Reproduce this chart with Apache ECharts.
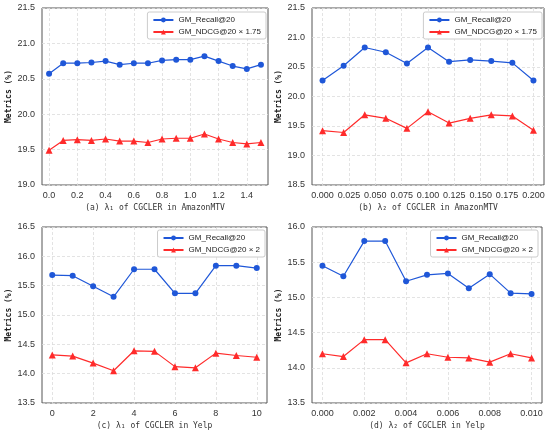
<!DOCTYPE html>
<html><head><meta charset="utf-8">
<script src="https://cdn.jsdelivr.net/npm/echarts@6/dist/echarts.min.js"></script>
<style>html,body{margin:0;padding:0;background:#fff}#c{width:550px;height:436px}</style>
</head><body><div id="c"></div>
<script>
// ---- data ----
const xA = [0.0,0.1,0.2,0.3,0.4,0.5,0.6,0.7,0.8,0.9,1.0,1.1,1.2,1.3,1.4,1.5];
const recallA = [20.57,20.72,20.72,20.73,20.75,20.70,20.72,20.72,20.76,20.77,20.77,20.82,20.75,20.68,20.64,20.70];
const ndcgA = [19.49,19.63,19.64,19.63,19.65,19.62,19.62,19.60,19.65,19.66,19.66,19.72,19.65,19.60,19.58,19.60];
const ticksA = [0.0,0.2,0.4,0.6,0.8,1.0,1.2,1.4];

const xB = [0.00,0.02,0.04,0.06,0.08,0.10,0.12,0.14,0.16,0.18,0.20];
const recallB = [20.27,20.52,20.83,20.75,20.56,20.83,20.59,20.62,20.60,20.57,20.27];
const ndcgB = [19.42,19.39,19.69,19.63,19.46,19.74,19.55,19.63,19.69,19.67,19.43];
const ticksB = [0.000,0.025,0.050,0.075,0.100,0.125,0.150,0.175,0.200];

const xC = [0,1,2,3,4,5,6,7,8,9,10];
const recallC = [15.68,15.67,15.49,15.31,15.78,15.78,15.37,15.37,15.84,15.84,15.80];
const ndcgC = [14.32,14.30,14.18,14.05,14.39,14.38,14.12,14.10,14.35,14.31,14.28];
const ticksC = [0,2,4,6,8,10];

const xD = [0.000,0.001,0.002,0.003,0.004,0.005,0.006,0.007,0.008,0.009,0.010];
const recallD = [15.45,15.30,15.80,15.80,15.23,15.32,15.34,15.13,15.33,15.06,15.05];
const ndcgD = [14.20,14.16,14.40,14.40,14.07,14.20,14.15,14.14,14.08,14.20,14.14];
const ticksD = [0.000,0.002,0.004,0.006,0.008,0.010];

const recallName = 'GM_Recall@20';
const ndcgNameAmazon = 'GM_NDCG@20 × 1.75';
const ndcgNameYelp = 'GM_NDCG@20 × 2';
const captions = ['(a) λ₁ of CGCLER in AmazonMTV','(b) λ₂ of CGCLER in AmazonMTV','(c) λ₁ of CGCLER in Yelp','(d) λ₂ of CGCLER in Yelp'];
const yLabel = 'Metrics (%)';

// ---- layout/style ----
const BLUE = '#1f57d8', RED = '#ff2b2b';
const panels = [
  {x:xA, r:recallA, n:ndcgA, ticks:ticksA, dec:1, xmin:-0.05, xmax:1.55, ymin:19.0, ymax:21.5, nName:ndcgNameAmazon,
   grid:{left:42, top:8, right:282, bottom:251}, legend:{right:284, top:12}},
  {x:xB, r:recallB, n:ndcgB, ticks:ticksB, dec:3, xmin:-0.01, xmax:0.21, ymin:18.5, ymax:21.5, nName:ndcgNameAmazon,
   grid:{left:312, top:8, right:6, bottom:251}, legend:{right:8, top:12}},
  {x:xC, r:recallC, n:ndcgC, ticks:ticksC, dec:0, xmin:-0.5, xmax:10.5, ymin:13.5, ymax:16.5, nName:ndcgNameYelp,
   grid:{left:42, top:227, right:283, bottom:33}, legend:{right:285, top:230}},
  {x:xD, r:recallD, n:ndcgD, ticks:ticksD, dec:3, xmin:-0.0005, xmax:0.0105, ymin:13.5, ymax:16.0, nName:ndcgNameYelp,
   grid:{left:312, top:227, right:8, bottom:33}, legend:{right:12, top:230}}
];

const grid=[], xAxis=[], yAxis=[], series=[], legend=[];
const tickFont = {fontFamily:'Liberation Sans', fontSize:9, color:'#333'};
panels.forEach((p,i)=>{
  grid.push(Object.assign({show:true, borderColor:'#555', borderWidth:1, backgroundColor:'#fff'}, p.grid));
  xAxis.push({type:'value', gridIndex:i, min:p.xmin, max:p.xmax,
    axisLine:{show:false}, axisTick:{show:false, customValues:p.ticks},
    axisLabel:Object.assign({customValues:p.ticks, margin:6, formatter:v=>Number(v).toFixed(p.dec)}, tickFont),
    splitLine:{show:true, lineStyle:{color:'#dcdcdc', type:[3,2], width:0.8}},
    name:captions[i], nameLocation:'middle', nameGap:19,
    nameTextStyle:{fontFamily:'DejaVu Sans Mono', fontSize:8, color:'#333'}});
  yAxis.push({type:'value', gridIndex:i, min:p.ymin, max:p.ymax, interval:0.5,
    axisLine:{show:false}, axisTick:{show:false},
    axisLabel:Object.assign({margin:7, formatter:v=>v.toFixed(1)}, tickFont),
    splitLine:{show:true, lineStyle:{color:'#dcdcdc', type:[3,2], width:0.8}},
    name:yLabel, nameLocation:'middle', nameGap:29, nameRotate:90,
    nameTextStyle:{fontFamily:'DejaVu Sans Mono', fontSize:8, color:'#222', fontWeight:'bold'}});
  series.push({type:'line', name:recallName, xAxisIndex:i, yAxisIndex:i,
    data:p.x.map((v,k)=>[v,p.r[k]]), symbol:'circle', symbolSize:6,
    itemStyle:{color:BLUE}, lineStyle:{color:BLUE, width:1.2}, animation:false});
  series.push({type:'line', name:p.nName, xAxisIndex:i, yAxisIndex:i,
    data:p.x.map((v,k)=>[v,p.n[k]]), symbol:'triangle', symbolSize:7,
    itemStyle:{color:RED}, lineStyle:{color:RED, width:1.2}, animation:false});
  legend.push(Object.assign({orient:'vertical', data:[recallName, p.nName],
    itemWidth:20, itemHeight:6, itemGap:4, padding:[4,5,3,5],
    backgroundColor:'#fff', borderColor:'#ccc', borderWidth:1, borderRadius:2,
    textStyle:{fontFamily:'Liberation Sans', fontSize:8, color:'#222'}}, p.legend));
});

const chart = echarts.init(document.getElementById('c'), null, {renderer:'canvas'});
chart.setOption({animation:false, backgroundColor:'#fff', grid, xAxis, yAxis, series, legend});
</script></body></html>
